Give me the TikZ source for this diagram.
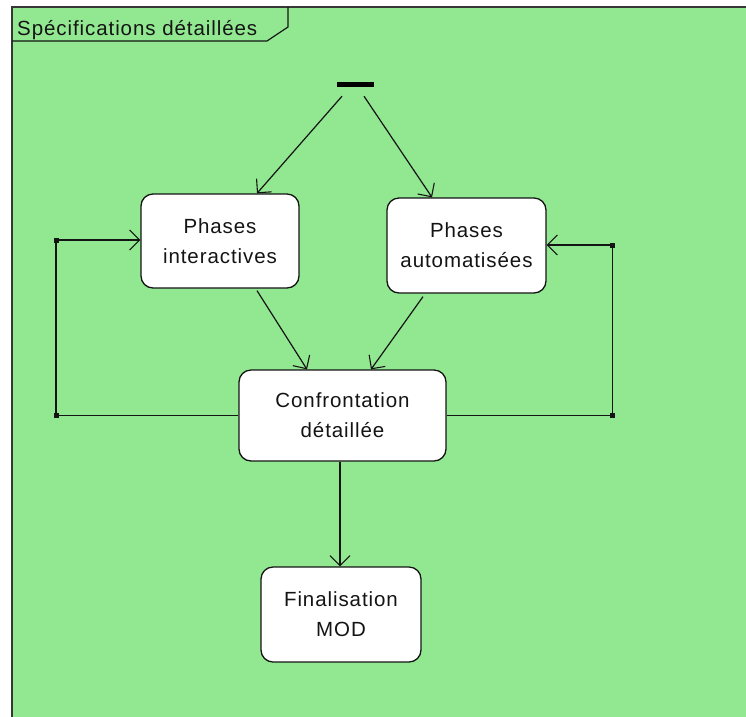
\documentclass[tikz,border=0pt]{standalone}
\usepackage{fontspec}
\setmainfont{Liberation Sans}[LetterSpace=4.5]
\usetikzlibrary{arrows.meta}
\definecolor{panel}{RGB}{146,232,145}
\definecolor{ink}{RGB}{20,20,20}
\tikzset{
  activity/.style={draw=ink, line width=1.3pt, fill=white, rounded corners=12pt,
    align=center, text=ink, font=\fontsize{20.5}{30}\selectfont, inner sep=0pt},
  flow/.style={draw=ink, line width=1.2pt, -{Straight Barb[length=10pt,width=20pt,line width=1.1pt]}},
  link/.style={draw=ink, line width=1.2pt},
  junction/.style={fill=ink, minimum size=5pt, inner sep=0pt},
  forkbar/.style={fill=black, minimum width=37pt, minimum height=5pt, inner sep=0pt},
}
\begin{document}
\begin{tikzpicture}[x=1pt, y=-1pt]
  \useasboundingbox (0,0) rectangle (746,716);
  \fill[white] (0,0) rectangle (746,716);
  \begin{scope}
    \clip (0,0) rectangle (746,716);
    % package frame
    \fill[panel] (12,7) rectangle (760,730);
    \draw[ink!85, line width=1.8pt] (12,730) -- (12,7) -- (760,7);
    % name tab
    \draw[ink, line width=1.2pt] (12,41) -- (267,41) -- (288,27) -- (288,7);
  \end{scope}
  \node[anchor=base west, text=ink, font=\fontsize{20.5}{24}\selectfont, inner sep=0pt]
    (title) at (17,35) {Spécifications détaillées};

  % activities
  \node[forkbar] (fork) at (355.5,84.5) {};
  \node[activity, minimum width=158pt, minimum height=94pt] (pi) at (220,241)
    {Phases\\interactives};
  \node[activity, minimum width=159pt, minimum height=95pt] (pa) at (466.5,245.5)
    {Phases\\automatisées};
  \node[activity, minimum width=207pt, minimum height=91pt] (cd) at (342.5,415.5)
    {Confrontation\\détaillée};
  \node[activity, minimum width=160pt, minimum height=95pt] (fm) at (341,614.5)
    {Finalisation\\MOD};

  % loop corners
  \node[junction] (l1) at (56,415.5) {};
  \node[junction] (l2) at (56,240) {};
  \node[junction] (r1) at (612.5,415.5) {};
  \node[junction] (r2) at (612.5,245) {};

  % transitions
  \draw[flow] ([xshift=-13.5pt,yshift=-9pt]fork.south) -- ([xshift=37pt]pi.north);
  \draw[flow] ([xshift=8.5pt,yshift=-9pt]fork.south) -- ([xshift=-34.5pt]pa.north);
  \draw[flow] ([xshift=37pt,yshift=-2pt]pi.south) -- ([xshift=-35.5pt]cd.north);
  \draw[flow] ([xshift=-43.5pt,yshift=-3pt]pa.south) -- ([xshift=28.5pt]cd.north);
  \draw[flow] ([xshift=-2.5pt]cd.south) -- ([xshift=-1pt]fm.north);

  % feedback loops
  \draw[link] (cd.west) -- (l1.center) -- (l2.center);
  \draw[flow] (l2.center) -- (l2.center -| pi.west);
  \draw[link] (cd.east) -- (r1.center) -- (r2.center);
  \draw[flow] (r2.center) -- (r2.center -| pa.east);
\end{tikzpicture}
\end{document}
